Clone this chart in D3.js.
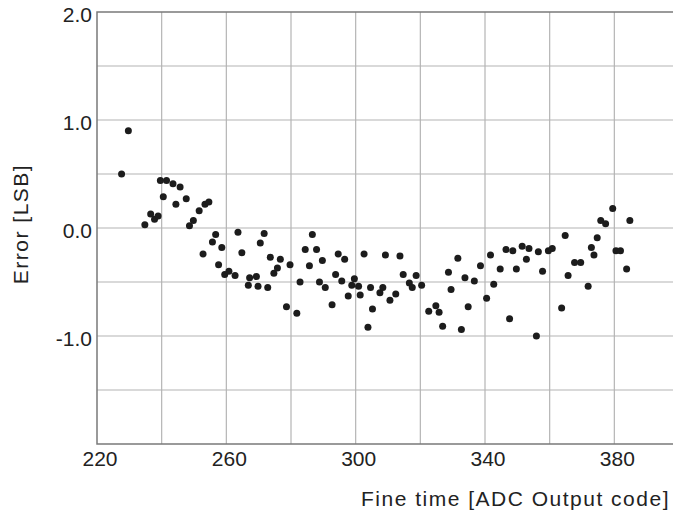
<!DOCTYPE html>
<html>
<head>
<meta charset="utf-8">
<script src="https://d3js.org/d3.v7.min.js"></script>
<style>
    body { margin: 0; background: #fff; }
    text { font-family: "Liberation Sans", Arial, sans-serif; fill: #222; }
</style>
</head>
<body>
<div id="chart"></div>
<script>
// Fine time code (x) for every measured point
var fineTime = [227.6, 229.7, 234.8, 236.6, 237.8, 238.9, 239.6, 240.5, 241.5, 243.5,
    244.4, 245.7, 247.6, 248.6, 249.8, 251.6, 252.8, 253.4, 254.6, 255.7,
    256.7, 257.6, 258.6, 259.5, 260.8, 262.7, 263.6, 264.8, 266.8, 267.2,
    269.3, 269.8, 270.5, 271.7, 272.8, 273.6, 274.7, 275.8, 276.7, 278.6,
    279.7, 281.8, 282.8, 284.4, 285.7, 286.6, 287.9, 288.8, 289.7, 290.6,
    292.7, 293.8, 294.6, 295.7, 296.6, 297.7, 298.8, 299.6, 300.9, 301.4,
    302.6, 303.8, 304.6, 305.2, 307.5, 308.4, 309.2, 310.6, 312.4, 313.7,
    314.7, 316.6, 317.5, 318.7, 320.4, 322.6, 324.8, 325.8, 326.9, 328.7,
    329.5, 331.6, 332.7, 333.8, 334.8, 336.7, 338.6, 340.5, 341.7, 342.7,
    344.7, 346.5, 347.6, 348.6, 349.7, 351.5, 352.8, 353.6, 355.9, 356.5,
    357.8, 359.6, 360.8, 363.7, 364.8, 365.7, 367.7, 369.6, 371.9, 372.9,
    373.7, 374.7, 375.8, 377.3, 379.5, 380.5, 381.9, 383.8, 384.8];

// Error in LSB for the same points
var errorLsb = [0.50, 0.90, 0.03, 0.13, 0.08, 0.11, 0.44, 0.29, 0.44, 0.41,
    0.22, 0.38, 0.27, 0.02, 0.07, 0.16, -0.24, 0.22, 0.24, -0.13,
    -0.06, -0.34, -0.18, -0.43, -0.40, -0.44, -0.04, -0.23, -0.53, -0.46,
    -0.45, -0.54, -0.14, -0.05, -0.55, -0.27, -0.42, -0.37, -0.29, -0.73,
    -0.34, -0.79, -0.50, -0.20, -0.35, -0.06, -0.20, -0.50, -0.30, -0.55,
    -0.71, -0.43, -0.24, -0.49, -0.29, -0.63, -0.53, -0.47, -0.54, -0.62,
    -0.24, -0.92, -0.55, -0.75, -0.60, -0.55, -0.25, -0.67, -0.61, -0.26,
    -0.43, -0.51, -0.55, -0.44, -0.53, -0.77, -0.72, -0.78, -0.91, -0.41,
    -0.57, -0.28, -0.94, -0.46, -0.73, -0.49, -0.35, -0.65, -0.25, -0.52,
    -0.38, -0.20, -0.84, -0.21, -0.38, -0.17, -0.29, -0.19, -1.00, -0.22,
    -0.40, -0.21, -0.19, -0.74, -0.07, -0.44, -0.32, -0.32, -0.54, -0.18,
    -0.25, -0.09, 0.07, 0.04, 0.18, -0.21, -0.21, -0.38, 0.07];

var xTickLabels = [220, 260, 300, 340, 380];
var yTickLabels = [2.0, 1.0, 0.0, -1.0];

var width = 673,
    height = 515;

var svg = d3.select("#chart")
    .append("svg")
    .attr("width", width)
    .attr("height", height);

var x = d3.scaleLinear().domain([220, 400]).range([97, 679]);
var y = d3.scaleLinear().domain([-2, 2]).range([444, 12]);

// grid
svg.append("g")
    .selectAll("line")
    .data(d3.range(240, 400, 20))
    .enter()
    .append("line")
    .attr("x1", function(d) { return x(d); })
    .attr("x2", function(d) { return x(d); })
    .attr("y1", y(2))
    .attr("y2", y(-2))
    .attr("stroke", "#b4b4b4")
    .attr("stroke-width", 1.2);

svg.append("g")
    .selectAll("line")
    .data(d3.range(-1.5, 2, 0.5))
    .enter()
    .append("line")
    .attr("x1", x(220))
    .attr("x2", width)
    .attr("y1", function(d) { return y(d); })
    .attr("y2", function(d) { return y(d); })
    .attr("stroke", "#b4b4b4")
    .attr("stroke-width", 1.2);

// frame: left, bottom, top
svg.append("path")
    .attr("d", "M" + width + "," + y(2) + "H" + x(220) + "V" + y(-2) + "H" + width)
    .attr("fill", "none")
    .attr("stroke", "#7a7a7a")
    .attr("stroke-width", 1.5);

// tick labels
svg.append("g")
    .selectAll("text")
    .data(xTickLabels)
    .enter()
    .append("text")
    .attr("x", function(d) { return x(d) + 3; })
    .attr("y", 466)
    .attr("text-anchor", "middle")
    .style("font-size", "21px")
    .text(function(d) { return d; });

svg.append("g")
    .selectAll("text")
    .data(yTickLabels)
    .enter()
    .append("text")
    .attr("x", 92)
    .attr("y", function(d) { return y(d) + 9.5; })
    .attr("text-anchor", "end")
    .style("font-size", "21px")
    .text(function(d) { return d.toFixed(1); });

// axis titles
svg.append("text")
    .attr("x", 670)
    .attr("y", 506)
    .attr("text-anchor", "end")
    .style("font-size", "21px")
    .style("letter-spacing", "1.5px")
    .text("Fine time [ADC Output code]");

svg.append("text")
    .attr("transform", "translate(28," + 224 + ") rotate(-90)")
    .attr("text-anchor", "middle")
    .style("font-size", "21px")
    .style("letter-spacing", "1.5px")
    .text("Error [LSB]");

// points
svg.append("g")
    .selectAll("circle")
    .data(fineTime)
    .enter()
    .append("circle")
    .attr("cx", function(d) { return x(d); })
    .attr("cy", function(d, i) { return y(errorLsb[i]); })
    .attr("r", 3.5)
    .attr("fill", "#1c1c1c");
</script>
</body>
</html>
